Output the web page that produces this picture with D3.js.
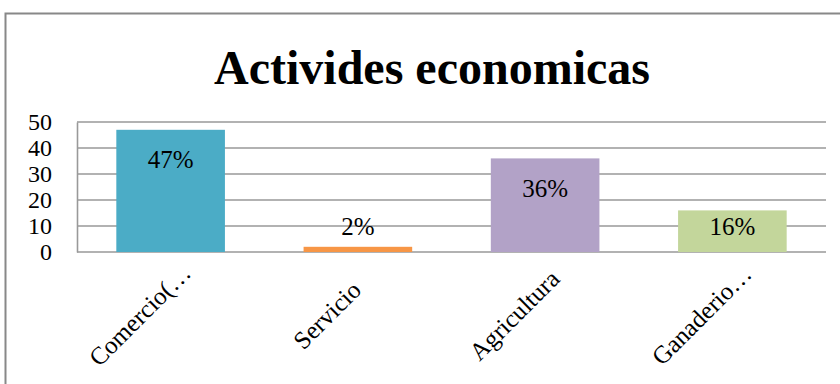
<!DOCTYPE html>
<html>
<head>
<meta charset="utf-8">
<script src="https://cdn.jsdelivr.net/npm/d3@7/dist/d3.min.js"></script>
<style>
  html, body { margin: 0; padding: 0; background: #fff; }
  svg { display: block; }
  svg text { font-family: "Liberation Serif", "Times New Roman", serif !important; fill: #000; }
</style>
</head>
<body>
<svg id="chart" width="840" height="384"></svg>
<script>
const title = "Activides economicas";
const categories = ["Comercio(…", "Servicio", "Agricultura", "Ganaderio…"];
const values = [47, 2, 36, 16];
const valueLabels = ["47%", "2%", "36%", "16%"];
const colors = ["#4BACC6", "#F79646", "#B2A2C7", "#C3D69B"];
const yTicks = [0, 10, 20, 30, 40, 50];

const svg = d3.select("#chart");
const plot = { left: 77, right: 826, top: 122, bottom: 252 };

// outer chart frame
svg.append("rect")
  .attr("x", 5.5).attr("y", 13.5)
  .attr("width", 900).attr("height", 500)
  .attr("fill", "#fff").attr("stroke", "#888").attr("stroke-width", 2);

// title
svg.append("text")
  .attr("x", 432).attr("y", 84)
  .attr("text-anchor", "middle")
  .style("font-size", "48px").style("font-weight", "bold")
  .text(title);

const x = d3.scaleBand().domain(categories).range([plot.left, plot.right]).paddingInner(0.42).paddingOuter(0.21);
const y = d3.scaleLinear().domain([0, 50]).range([plot.bottom, plot.top]);

// horizontal gridlines
svg.append("g").selectAll("line").data(yTicks).join("line")
  .attr("x1", plot.left).attr("x2", plot.right)
  .attr("y1", d => y(d)).attr("y2", d => y(d))
  .attr("stroke", "#999").attr("stroke-width", 1.6);

// value axis
const yAxis = svg.append("g")
  .attr("transform", `translate(${plot.left},0)`)
  .call(d3.axisLeft(y).tickValues(yTicks).tickSize(0).tickPadding(25));
yAxis.attr("font-family", null).attr("font-size", null);
yAxis.select(".domain").attr("stroke", "#999").attr("stroke-width", 1.6);
yAxis.selectAll("text").style("font-size", "24px").attr("dy", "0.33em");

// bars
svg.append("g").selectAll("rect").data(values).join("rect")
  .attr("x", (d, i) => x(categories[i]))
  .attr("y", d => y(d))
  .attr("width", x.bandwidth())
  .attr("height", d => y(0) - y(d))
  .attr("fill", (d, i) => colors[i]);

// value labels
svg.append("g").selectAll("text").data(values).join("text")
  .attr("x", (d, i) => x(categories[i]) + x.bandwidth() / 2)
  .attr("y", d => {
    const h = y(0) - y(d);
    if (h < 30) return y(d) - 20;
    return Math.min(y(d) + 30, y(d) + h / 2 - 4);
  })
  .attr("dy", "0.33em")
  .attr("text-anchor", "middle")
  .style("font-size", "25px")
  .text((d, i) => valueLabels[i]);

// category axis labels, rotated 45° and centred below each band
const xAxis = svg.append("g")
  .attr("transform", `translate(0,${plot.bottom})`)
  .call(d3.axisBottom(x).tickSize(0).tickPadding(0));
xAxis.attr("font-family", null).attr("font-size", null);
xAxis.select(".domain").remove();
xAxis.selectAll("text")
  .style("font-size", "25px")
  .attr("text-anchor", "middle")
  .attr("transform", "translate(-31,63) rotate(-45)")
  .attr("y", 0).attr("dy", "0.35em");
</script>
</body>
</html>
